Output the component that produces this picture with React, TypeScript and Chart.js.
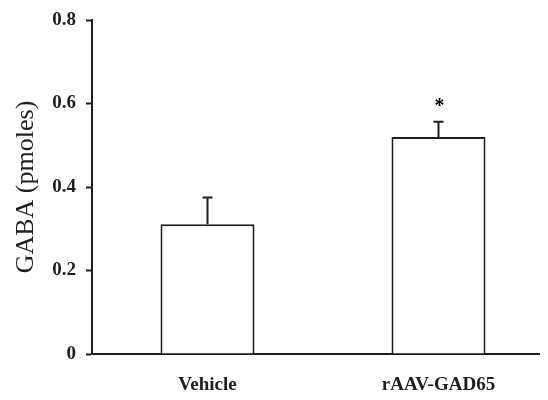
import React, { useEffect, useRef } from "react";
import { Chart, registerables } from "chart.js";

Chart.register(...registerables);

const categories = ["Vehicle", "rAAV-GAD65"];
const means = [0.311, 0.52];
const errors = [0.064, 0.036];
const significant = [false, true];
const yTicks = [0, 0.2, 0.4, 0.6, 0.8];

const INK = "#1e1e1e";
const SERIF = "'Liberation Serif', 'Times New Roman', serif";

const errorBarPlugin = {
  id: "errorBars",
  afterDatasetsDraw(chart: any) {
    const { ctx, scales } = chart;
    const x = scales.x;
    const y = scales.y;
    ctx.save();
    ctx.strokeStyle = INK;
    ctx.lineWidth = 2;
    means.forEach((m, i) => {
      const cx = x.getPixelForValue(i);
      const y0 = y.getPixelForValue(m);
      const y1 = y.getPixelForValue(m + errors[i]);
      ctx.beginPath();
      ctx.moveTo(cx, y0);
      ctx.lineTo(cx, y1);
      ctx.moveTo(cx - 5, y1);
      ctx.lineTo(cx + 5, y1);
      ctx.stroke();
      if (significant[i]) {
        ctx.fillStyle = "#000";
        ctx.font = `bold 20px ${SERIF}`;
        ctx.textAlign = "center";
        ctx.textBaseline = "alphabetic";
        ctx.fillText("*", cx + 1, y1 - 10);
      }
    });
    ctx.restore();
  },
};

export default function App() {
  const ref = useRef<HTMLCanvasElement | null>(null);

  useEffect(() => {
    if (!ref.current) return;
    const chart = new Chart(ref.current, {
      type: "bar",
      data: {
        labels: categories,
        datasets: [
          {
            data: means,
            backgroundColor: "#ffffff",
            borderColor: INK,
            borderWidth: 2,
            categoryPercentage: 1,
            barPercentage: 0.407,
          },
        ],
      },
      options: {
        responsive: false,
        animation: false,
        layout: { padding: { top: 12, right: 0, bottom: 0, left: 0 } },
        plugins: { legend: { display: false }, tooltip: { enabled: false } },
        scales: {
          x: {
            grid: { display: false, drawTicks: false },
            border: { display: true, color: INK, width: 2 },
            ticks: {
              color: INK,
              padding: 20,
              font: { family: SERIF, size: 19, weight: "bold" },
            },
            afterFit(scale: any) {
              scale.height = 46;
              scale.paddingLeft = 0;
              scale.paddingRight = 0;
            },
          },
          y: {
            min: 0,
            max: 0.8,
            grid: {
              drawOnChartArea: false,
              drawTicks: true,
              tickLength: 6,
              tickWidth: 2,
              tickColor: INK,
            },
            border: { display: true, color: INK, width: 2 },
            afterBuildTicks(scale: any) {
              scale.ticks = yTicks.map((v) => ({ value: v }));
            },
            ticks: {
              color: INK,
              padding: 10,
              font: { family: SERIF, size: 19, weight: "bold" },
              callback: (v: any) => (v === 0 ? "0" : Number(v).toFixed(1)),
            },
            title: {
              display: true,
              text: "GABA (pmoles)",
              color: INK,
              padding: { top: 3, bottom: 0 },
              font: { family: SERIF, size: 26, weight: "normal" },
            },
            afterFit(scale: any) {
              scale.width = 84;
              scale.paddingTop = 0;
              scale.paddingBottom = 0;
            },
          },
        },
      },
      plugins: [errorBarPlugin],
    } as any);
    return () => chart.destroy();
  }, []);

  return (
    <div style={{ width: 540, overflow: "hidden" }}>
      <canvas ref={ref} width={546} height={392} style={{ display: "block" }} />
    </div>
  );
}
